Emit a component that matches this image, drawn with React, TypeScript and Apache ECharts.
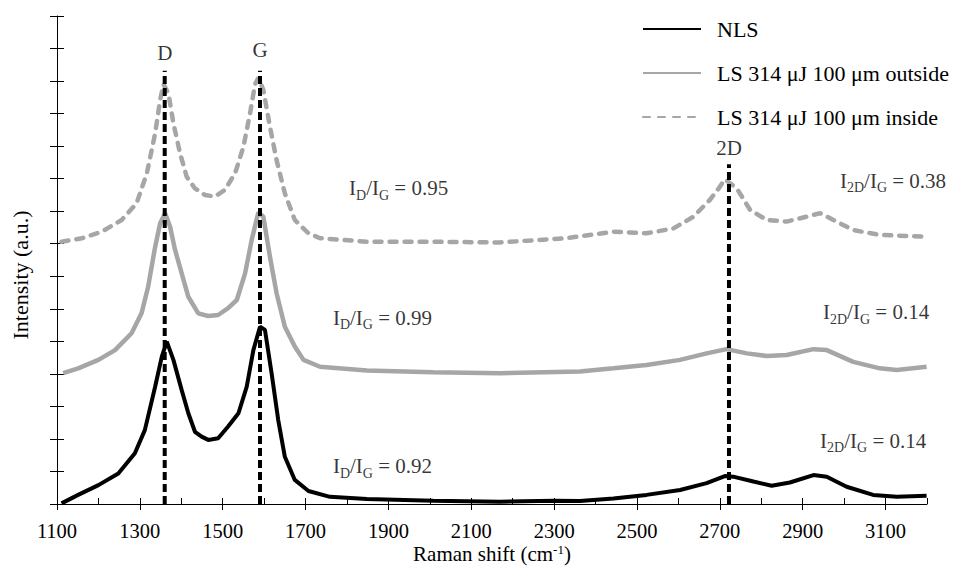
import React, { useEffect, useRef } from "react";
import * as echarts from "echarts";

const FONT = "'Liberation Serif', 'Times New Roman', serif";
const GRAY = "#a6a6a6";

// x-axis tick values
const xMajorTicks = [1100, 1300, 1500, 1700, 1900, 2100, 2300, 2500, 2700, 2900, 3100];
const xMinorTicks = [1100, 1200, 1300, 1400, 1500, 1600, 1700, 1800, 1900, 2000, 2100, 2200, 2300, 2400, 2500, 2600, 2700, 2800, 2900, 3000, 3100, 3200];

const seriesNames = ["NLS", "LS 314 μJ 100 μm outside", "LS 314 μJ 100 μm inside"];

// Raman spectra [shift, intensity (offset, a.u.)]
const nlsData = [
  [1111, 0.02], [1151, 0.28], [1200, 0.58], [1248, 0.94], [1288, 1.56], [1312, 2.27], [1337, 3.61],
  [1353, 4.53], [1365, 4.99], [1381, 4.43], [1401, 3.5], [1417, 2.79], [1433, 2.22], [1449, 2.07],
  [1465, 1.97], [1489, 2.02], [1513, 2.38], [1538, 2.79], [1558, 3.61], [1574, 4.73], [1590, 5.45],
  [1602, 5.35], [1618, 4.02], [1634, 2.58], [1650, 1.45], [1674, 0.74], [1707, 0.4], [1759, 0.22],
  [1848, 0.15], [2008, 0.1], [2169, 0.07], [2300, 0.1], [2362, 0.09], [2443, 0.17], [2523, 0.28],
  [2604, 0.43], [2668, 0.64], [2712, 0.86], [2732, 0.84], [2781, 0.69], [2825, 0.56], [2869, 0.66],
  [2926, 0.89], [2958, 0.84], [3006, 0.53], [3070, 0.28], [3127, 0.22], [3199, 0.25],
];

const outsideData = [
  [1115, 4.02], [1151, 4.17], [1200, 4.43], [1240, 4.73], [1280, 5.25], [1304, 5.86], [1320, 6.68],
  [1337, 7.91], [1349, 8.63], [1361, 8.94], [1373, 8.52], [1385, 7.81], [1401, 7.09], [1417, 6.37],
  [1441, 5.86], [1465, 5.78], [1489, 5.81], [1513, 6.02], [1534, 6.27], [1554, 7.09], [1570, 8.12],
  [1586, 8.96], [1598, 8.83], [1614, 7.6], [1630, 6.48], [1650, 5.45], [1674, 4.84], [1695, 4.43],
  [1735, 4.22], [1848, 4.1], [2008, 4.05], [2169, 4.02], [2362, 4.07], [2443, 4.17], [2523, 4.27],
  [2604, 4.43], [2668, 4.63], [2716, 4.76], [2765, 4.63], [2813, 4.55], [2861, 4.58], [2926, 4.76],
  [2958, 4.73], [3022, 4.37], [3086, 4.17], [3127, 4.12], [3199, 4.22],
];

const insideData = [
  [1111, 8.06], [1160, 8.17], [1208, 8.37], [1256, 8.73], [1292, 9.24], [1317, 10.17], [1337, 11.4],
  [1349, 12.42], [1357, 12.9], [1369, 12.62], [1381, 11.7], [1397, 10.78], [1413, 10.06], [1433, 9.7],
  [1457, 9.5], [1481, 9.45], [1505, 9.65], [1530, 10.17], [1550, 10.98], [1566, 12.01], [1578, 12.9],
  [1586, 13.1], [1598, 12.73], [1614, 11.6], [1630, 10.57], [1650, 9.55], [1674, 8.73], [1707, 8.32],
  [1735, 8.17], [1848, 8.06], [2008, 8.06], [2169, 8.04], [2330, 8.17], [2443, 8.37], [2523, 8.32],
  [2588, 8.47], [2636, 8.83], [2676, 9.35], [2700, 9.75], [2712, 9.98], [2741, 9.7], [2773, 9.04],
  [2813, 8.73], [2861, 8.68], [2909, 8.83], [2942, 8.94], [2974, 8.73], [3022, 8.42], [3086, 8.27],
  [3151, 8.24], [3199, 8.22],
];

// Peak markers
const peakNames = ["D", "G", "2D"];
const peakShift = [1360, 1590, 2722];
const peakLineTop = [13.32, 13.32, 10.44];
const peakLabelY = [13.86, 13.96, 10.94];

// Intensity ratio annotations
const ratioNumerator = ["D", "D", "D", "2D", "2D", "2D"];
const ratioValue = ["0.95", "0.99", "0.92", "0.38", "0.14", "0.14"];
const ratioX = [1805, 1766, 1766, 2990, 2949, 2942];
const ratioY = [9.71, 5.72, 1.16, 9.93, 5.9, 1.94];

export default function App() {
  const ref = useRef<HTMLDivElement>(null);

  useEffect(() => {
    if (!ref.current) return;
    const chart = echarts.init(ref.current, undefined, { renderer: "svg" });

    const ratioRich = {
      m: { fontSize: 21, fontFamily: FONT, color: "#000", lineHeight: 28 },
      s: { fontSize: 14, fontFamily: FONT, color: "#000", lineHeight: 14, verticalAlign: "bottom" },
    };

    const peakLineSeries = peakShift.map((x, i) => ({
      type: "line",
      name: "peak-" + peakNames[i],
      data: [[x, 0], [x, peakLineTop[i]]],
      showSymbol: false,
      symbol: "none",
      silent: true,
      z: 5,
      lineStyle: { color: "#000", width: 4, type: [8, 4] },
    }));

    chart.setOption({
      animation: false,
      backgroundColor: "#fff",
      grid: { left: 57, right: 38, top: 16, bottom: 62, containLabel: false, outerBoundsMode: "none" },
      legend: {
        data: seriesNames,
        orient: "vertical",
        left: 642,
        top: 18,
        padding: 0,
        itemWidth: 58,
        itemHeight: 14,
        itemGap: 22,
        itemStyle: { opacity: 0 },
        textStyle: { fontSize: 22, fontFamily: FONT, color: "#000", padding: [0, 0, 0, 11] },
      },
      xAxis: [
        {
          type: "value",
          min: 1100,
          max: 3200,
          position: "bottom",
          axisLine: { show: true, onZero: false, lineStyle: { color: "#000", width: 1 } },
          axisTick: { show: true, inside: false, length: 6, customValues: xMajorTicks, lineStyle: { color: "#000" } },
          axisLabel: {
            show: true,
            customValues: xMajorTicks,
            formatter: (v: number) => String(v),
            fontSize: 20.5,
            lineHeight: 20,
            fontFamily: FONT,
            color: "#000",
            margin: 17,
          },
          splitLine: { show: false },
          name: "{a|Raman shift (cm}{p|-1}{a|)}",
          nameLocation: "middle",
          nameGap: 39,
          nameMoveOverlap: false,
          nameTextStyle: {
            rich: {
              a: { fontSize: 21, fontFamily: FONT, color: "#000", lineHeight: 21 },
              p: { fontSize: 13, fontFamily: FONT, color: "#000", lineHeight: 12, verticalAlign: "top" },
            },
          },
        },
        {
          type: "value",
          min: 1100,
          max: 3200,
          position: "bottom",
          axisLine: { show: false, onZero: false },
          axisTick: { show: true, inside: true, length: 6, customValues: xMinorTicks, lineStyle: { color: "#000" } },
          axisLabel: { show: false },
          splitLine: { show: false },
        },
      ],
      yAxis: [
        {
          type: "value",
          min: 0,
          max: 15,
          interval: 1,
          position: "left",
          axisLine: { show: true, lineStyle: { color: "#000", width: 1 } },
          axisTick: { show: true, inside: false, length: 7, lineStyle: { color: "#000", width: 1 } },
          axisLabel: { show: false },
          splitLine: { show: false },
        },
        {
          type: "value",
          min: 0,
          max: 15,
          interval: 1,
          position: "left",
          axisLine: { show: false },
          axisTick: { show: true, inside: true, length: 7, lineStyle: { color: "#000", width: 1 } },
          axisLabel: { show: false },
          splitLine: { show: false },
        },
      ],
      graphic: [
        {
          type: "text",
          x: 20,
          y: 275,
          rotation: Math.PI / 2,
          style: {
            text: "Intensity (a.u.)",
            fontSize: 22,
            fontFamily: FONT,
            fill: "#000",
            align: "center",
            verticalAlign: "middle",
          },
        },
      ],
      series: [
        {
          type: "line",
          name: seriesNames[2],
          data: insideData,
          showSymbol: false,
          symbol: "none",
          z: 2,
          lineStyle: { color: GRAY, width: 4.5, type: [7, 8], cap: "round" },
          itemStyle: { color: GRAY },
        },
        {
          type: "line",
          name: seriesNames[1],
          data: outsideData,
          showSymbol: false,
          symbol: "none",
          z: 3,
          lineStyle: { color: GRAY, width: 4.5 },
          itemStyle: { color: GRAY },
        },
        {
          type: "line",
          name: seriesNames[0],
          data: nlsData,
          showSymbol: false,
          symbol: "none",
          z: 4,
          lineStyle: { color: "#000", width: 4 },
          itemStyle: { color: "#000" },
        },
        ...peakLineSeries,
        {
          type: "scatter",
          name: "peak-labels",
          symbolSize: 0,
          silent: true,
          data: peakShift.map((x, i) => ({ value: [x, peakLabelY[i]], name: peakNames[i] })),
          label: {
            show: true,
            position: "inside",
            formatter: "{b}",
            fontSize: 21,
            fontFamily: FONT,
            color: "#000",
          },
        },
        {
          type: "scatter",
          name: "ratio-labels",
          symbolSize: 0,
          silent: true,
          data: ratioX.map((x, i) => ({
            value: [x, ratioY[i]],
            label: { formatter: `{m|I}{s|${ratioNumerator[i]}}{m|/I}{s|G}{m| = ${ratioValue[i]}}` },
          })),
          label: { show: true, position: "right", distance: 0, rich: ratioRich },
        },
      ],
    });

    return () => chart.dispose();
  }, []);

  return (
    <div
      ref={ref}
      style={{ position: "fixed", left: 0, top: 0, width: 965, height: 566, background: "#fff" }}
    />
  );
}
